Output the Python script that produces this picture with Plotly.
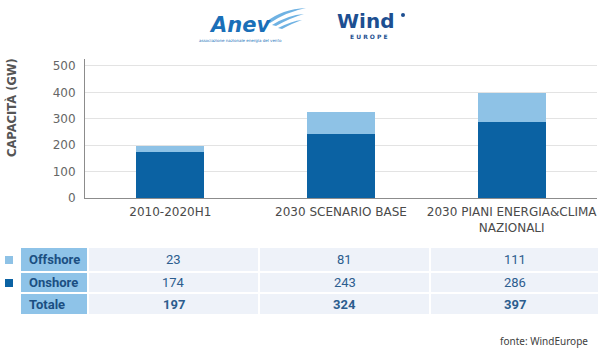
import plotly.graph_objects as go

# ---------------- data ----------------
categories = ["2010-2020H1", "2030 SCENARIO BASE", "2030 PIANI ENERGIA&CLIMA<br>NAZIONALI"]
onshore = [174, 243, 286]
offshore = [23, 81, 111]
totale = [197, 324, 397]
row_labels = ["Offshore", "Onshore", "Totale"]
y_ticks = [0, 100, 200, 300, 400, 500]

# ---------------- style / layout constants ----------------
W, H = 605, 358
DARK = "#0b62a3"
LIGHT = "#8ec2e6"
LABEL_BG = "#8ec3e8"
CELL_BG = "#eef2f9"
LABEL_TXT = "#1b4f82"
CELL_TXT = "#2c5d8e"
AX_TXT = "#4a4a4a"
TABLE_FONT = "Liberation Sans Narrow, Roboto, sans-serif"

# table grid (pixel units of the page)
table_col_edges = [20, 88, 259, 430, 599]
table_row_edges = [247, 272, 293, 315]


def px(x):
    return x / W


def py(y):
    return 1 - y / H


fig = go.Figure()
fig.add_trace(go.Bar(x=categories, y=onshore, name="Onshore", marker=dict(color=DARK, line=dict(width=0)),
                     width=0.4, hoverinfo="y"))
fig.add_trace(go.Bar(x=categories, y=offshore, name="Offshore", marker=dict(color=LIGHT, line=dict(width=0)),
                     width=0.4, hoverinfo="y"))

# ---------------- table as heatmap bricks ----------------
n_rows = len(row_labels)
n_cols = len(categories)
z = [[0] + [1] * n_cols for _ in range(n_rows)]
fig.add_trace(go.Heatmap(
    x=table_col_edges, y=table_row_edges, z=z,
    colorscale=[[0, LABEL_BG], [0.5, LABEL_BG], [0.5, CELL_BG], [1, CELL_BG]],
    zmin=0, zmax=1, showscale=False, xgap=2, ygap=2, hoverinfo="skip",
    xaxis="x2", yaxis="y2",
))

table_values = [offshore, onshore, totale]
for r in range(n_rows):
    yc = (table_row_edges[r] + table_row_edges[r + 1]) / 2
    fig.add_annotation(text="<b>%s</b>" % row_labels[r], xref="x2", yref="y2",
                       x=table_col_edges[0] + 7, y=yc, xanchor="left", yanchor="middle", showarrow=False,
                       font=dict(family=TABLE_FONT, size=13, color=LABEL_TXT))
    for c in range(n_cols):
        xc = (table_col_edges[c + 1] + table_col_edges[c + 2]) / 2
        v = str(table_values[r][c])
        if r == n_rows - 1:
            v = "<b>%s</b>" % v
        fig.add_annotation(text=v, xref="x2", yref="y2", x=xc, y=yc,
                           xanchor="center", yanchor="middle", showarrow=False,
                           font=dict(family=TABLE_FONT, size=13, color=CELL_TXT))

# ---------------- layout ----------------
fig.update_layout(
    width=W, height=H, autosize=False,
    margin=dict(l=0, r=0, t=0, b=0, autoexpand=False),
    paper_bgcolor="white", plot_bgcolor="rgba(0,0,0,0)",
    barmode="stack",
    showlegend=False,
    font=dict(family="DejaVu Sans, sans-serif", color=AX_TXT),
    xaxis=dict(domain=[px(85), px(597)], showline=True, linecolor="#8c8c8c", linewidth=1,
               ticks="", automargin=False, ticklabelstandoff=3,
               tickfont=dict(family="DejaVu Sans, sans-serif", size=12, color=AX_TXT),
               fixedrange=True),
    yaxis=dict(domain=[py(198), py(59)], range=[0, 526], tickvals=y_ticks,
               showline=True, linecolor="#8c8c8c", linewidth=1, automargin=False,
               showgrid=True, gridcolor="#e3e3e3", gridwidth=1, zeroline=False,
               ticks="", ticklabelstandoff=6,
               tickfont=dict(family="DejaVu Sans, sans-serif", size=12, color="#666666"),
               fixedrange=True),
    xaxis2=dict(domain=[0, 1], range=[0, W], visible=False, anchor="y2", fixedrange=True),
    yaxis2=dict(domain=[0, 1], range=[H, 0], visible=False, anchor="x2", fixedrange=True),
)

# legend squares beside table rows
fig.add_shape(type="rect", xref="paper", yref="paper", x0=px(5), x1=px(13), y0=py(264), y1=py(256),
              fillcolor=LIGHT, line=dict(width=0))
fig.add_shape(type="rect", xref="paper", yref="paper", x0=px(5), x1=px(13), y0=py(287), y1=py(279),
              fillcolor=DARK, line=dict(width=0))

# y-axis title
fig.add_annotation(text="<b>CAPACITÀ (GW)</b>", xref="paper", yref="paper", x=px(11), y=py(108),
                   textangle=-90, showarrow=False, xanchor="center", yanchor="middle",
                   font=dict(family="DejaVu Sans, sans-serif", size=11.5, color="#555555"))

# source
fig.add_annotation(text="fonte: WindEurope", xref="paper", yref="paper", x=px(590), y=py(341),
                   showarrow=False, xanchor="right", yanchor="middle",
                   font=dict(family="Noto Sans, sans-serif", size=10, color="#404040"))

# logos (as text + simple swoosh)
fig.add_annotation(text="<b><i>Anev</i></b>", xref="paper", yref="paper", x=px(240), y=py(25),
                   showarrow=False, xanchor="center", yanchor="middle",
                   font=dict(family="DejaVu Sans, sans-serif", size=21, color="#1a6fb8"))
fig.add_annotation(text="associazione nazionale energia del vento", xref="paper", yref="paper",
                   x=px(240), y=py(40), showarrow=False, xanchor="center", yanchor="middle",
                   font=dict(family="DejaVu Sans, sans-serif", size=4, color="#1a6fb8"))


def ppath(pts):
    s = "M %f %f" % (px(pts[0][0]), py(pts[0][1]))
    i = 1
    while i < len(pts):
        s += " Q %f %f %f %f" % (px(pts[i][0]), py(pts[i][1]), px(pts[i + 1][0]), py(pts[i + 1][1]))
        i += 2
    return s + " Z"


for pts in [[(266, 22), (282, 9), (306, 8), (286, 12), (270, 23)],
            [(272, 25), (288, 15), (304, 14), (290, 18), (276, 26)],
            [(278, 28), (292, 21), (302, 20), (293, 23), (282, 29)]]:
    fig.add_shape(type="path", xref="paper", yref="paper", path=ppath(pts),
                  fillcolor="#6fb2e3", line=dict(width=0))

fig.add_annotation(text="<b>Wind</b>", xref="paper", yref="paper", x=px(365), y=py(21),
                   showarrow=False, xanchor="center", yanchor="middle",
                   font=dict(family="DejaVu Sans, sans-serif", size=20, color="#1d4f91"))
fig.add_annotation(text="<b>E U R O P E</b>", xref="paper", yref="paper", x=px(369), y=py(36),
                   showarrow=False, xanchor="center", yanchor="middle",
                   font=dict(family="DejaVu Sans, sans-serif", size=6, color="#1d4f91"))
fig.add_shape(type="circle", xref="paper", yref="paper", x0=px(401), x1=px(405), y0=py(17), y1=py(13),
              fillcolor="#1d4f91", line=dict(width=0))

fig.write_html("out.html", config={"displayModeBar": False},
               post_script="document.body.style.margin='0px';")
